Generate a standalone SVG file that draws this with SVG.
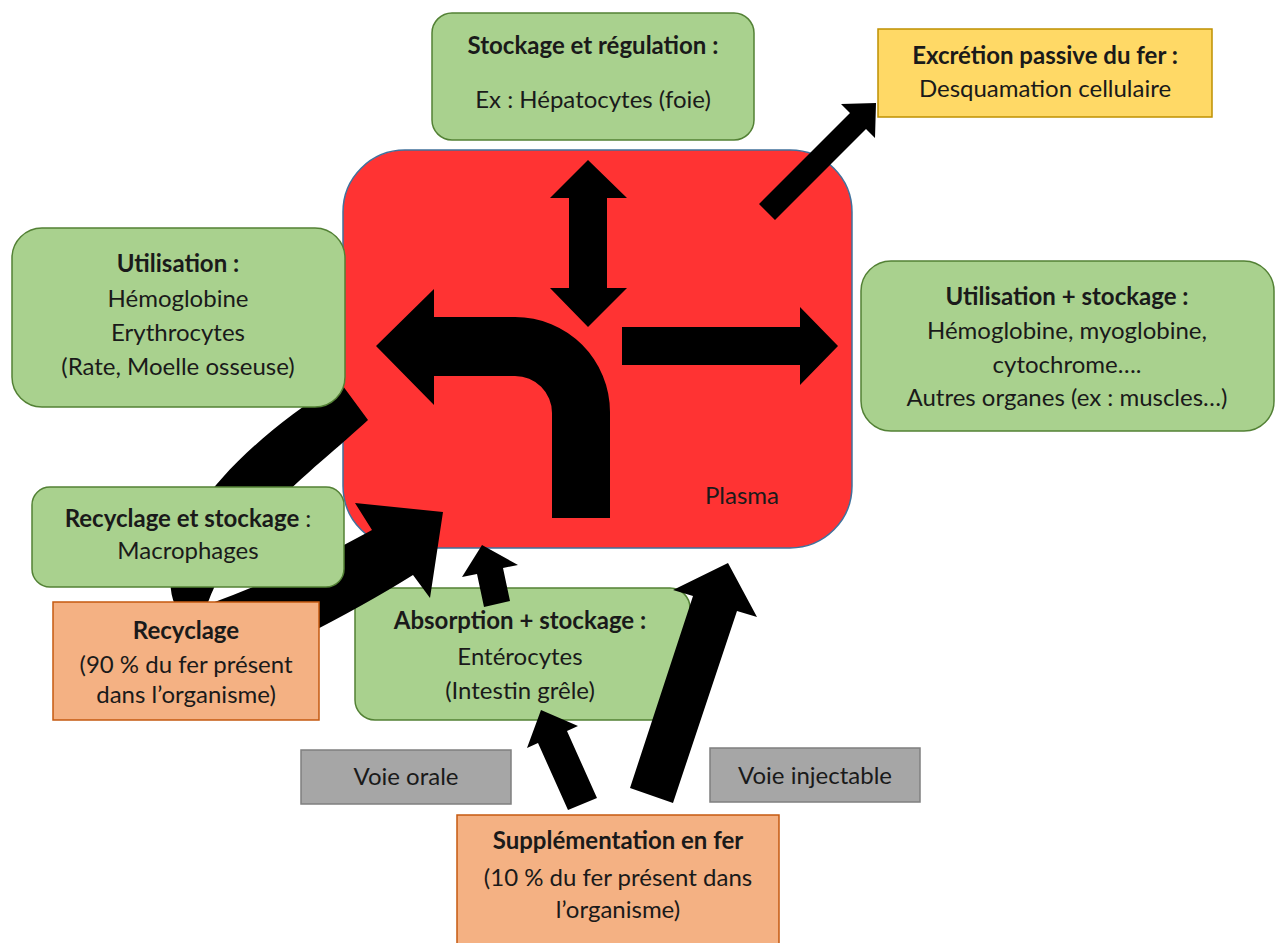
<svg xmlns="http://www.w3.org/2000/svg" width="1280" height="943" viewBox="0 0 1280 943">
<style>
.green{fill:#A9D18E;stroke:#538135;stroke-width:1.5}
.red{fill:#FF3333;stroke:#41719C;stroke-width:1.5}
.yellow{fill:#FFD966;stroke:#BF9000;stroke-width:1.5}
.orange{fill:#F4B183;stroke:#C55A11;stroke-width:1.5}
.gray{fill:#A6A6A6;stroke:#7F7F7F;stroke-width:1.5}
text{font-family:Lato,"Liberation Sans",sans-serif;font-size:24px;fill:#1a1a1a;text-anchor:middle}
.b{font-weight:bold}
.arrow{fill:#000;stroke:none}
</style>
<rect width="1280" height="943" fill="#fff"/>
<g id="plasma">
<rect class="red" x="343" y="150" width="509" height="398" rx="62"/>
<text x="705" y="504" style="text-anchor:start">Plasma</text>
</g>
<g id="stockage-regulation">
<rect class="green" x="432" y="13" width="322" height="127" rx="20"/>
<text class="b" x="593" y="54">Stockage et régulation :</text>
<text x="593" y="108">Ex : Hépatocytes (foie)</text>
</g>
<g id="excretion">
<rect class="yellow" x="878" y="29" width="334" height="88"/>
<text class="b" x="1045" y="64">Excrétion passive du fer :</text>
<text x="1045" y="97">Desquamation cellulaire</text>
</g>
<g id="utilisation-stockage">
<rect class="green" x="861" y="261" width="413" height="170" rx="30"/>
<text class="b" x="1067" y="305">Utilisation + stockage :</text>
<text x="1067" y="339">Hémoglobine, myoglobine,</text>
<text x="1067" y="373">cytochrome….</text>
<text x="1067" y="406">Autres organes (ex : muscles…)</text>
</g>
<g id="absorption">
<rect class="green" x="355" y="588" width="335" height="132" rx="20"/>
<text class="b" x="520" y="629">Absorption + stockage :</text>
<text x="520" y="665">Entérocytes</text>
<text x="520" y="699">(Intestin grêle)</text>
</g>
<g id="voie-orale">
<rect class="gray" x="301" y="750" width="210" height="54"/>
<text x="406" y="785">Voie orale</text>
</g>
<g id="voie-injectable">
<rect class="gray" x="710" y="748" width="210" height="54"/>
<text x="815" y="784">Voie injectable</text>
</g>
<g id="supplementation">
<rect class="orange" x="457" y="815" width="322" height="140"/>
<text class="b" x="618" y="849">Supplémentation en fer</text>
<text x="618" y="886">(10 % du fer présent dans</text>
<text x="618" y="918">l’organisme)</text>
</g>
<g id="connectors">
<path class="arrow" d="M200 650 L175 605 C155 560 200 470 340 382 L368 420 C320 465 235 525 207 605 Z"/>
<path class="arrow" d="M190 615 L212 603 Q300 570 372 530 L355 503 L443 512 L430 598 L413 575 Q365 605 300 638 L230 660 Z"/>
<polygon class="arrow" points="588,160 627,198 607,198 607,288 627,288 588,327 550,288 569,288 569,198 550,198"/>
<polygon class="arrow" points="622,327 800,327 800,307 838,346 800,385 800,365 622,365"/>
<path class="arrow" d="M376 346 L434 289 L434 317 L515 317 A95 95 0 0 1 610 412 L610 518 L552 518 L552 413 A37 37 0 0 0 515 376 L434 376 L434 405 Z"/>
<polygon class="arrow" points="759,204 850,113 841,104 876,103 875,138 866,129 775,220"/>
<polygon class="arrow" points="482,545 518,565 503,568 510,601 484,607 477,574 462,577"/>
<polygon class="arrow" points="541,710 578,726 567,731 597,798 568,810 538,743 527,748"/>
<polygon class="arrow" points="728,563 757,617 737,611 673,803 630,788 693,596 673,590"/>
</g>
<g id="utilisation">
<rect class="green" x="12" y="228" width="333" height="179" rx="30"/>
<text class="b" x="178" y="272">Utilisation :</text>
<text x="178" y="307">Hémoglobine</text>
<text x="178" y="341">Erythrocytes</text>
<text x="178" y="375">(Rate, Moelle osseuse)</text>
</g>
<g id="macrophages">
<rect class="green" x="32" y="487" width="312" height="100" rx="18"/>
<text x="188" y="527"><tspan class="b">Recyclage et stockage</tspan> :</text>
<text x="188" y="559">Macrophages</text>
</g>
<g id="recyclage">
<rect class="orange" x="53" y="602" width="266" height="118"/>
<text class="b" x="186" y="639">Recyclage</text>
<text x="186" y="673">(90 % du fer présent</text>
<text x="186" y="703">dans l’organisme)</text>
</g>
</svg>
